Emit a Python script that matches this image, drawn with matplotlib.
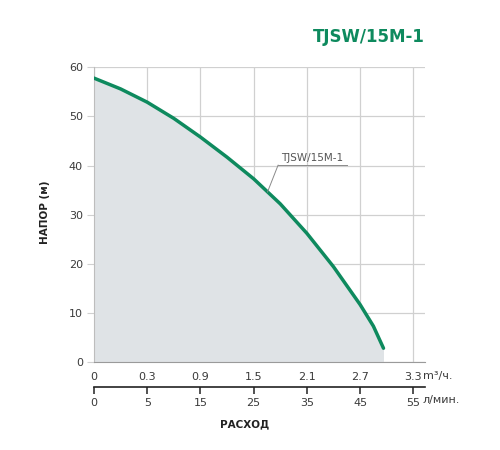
import matplotlib
matplotlib.use("Agg")
import matplotlib.pyplot as plt
import matplotlib.transforms as mtransforms

# Data (positions are equally spaced tick slots)
flow_m3h_labels = ["0", "0.3", "0.9", "1.5", "2.1", "2.7", "3.3"]
flow_lmin_labels = ["0", "5", "15", "25", "35", "45", "55"]
curve_pos = [0, 0.5, 1, 1.5, 2, 2.5, 3, 3.5, 4, 4.5, 5, 5.25, 5.44]
curve_head = [57.8, 55.6, 52.9, 49.6, 45.8, 41.7, 37.3, 32.2, 26.2, 19.4, 11.7, 7.3, 2.8]
head_ticks = [0, 10, 20, 30, 40, 50, 60]
title = "TJSW/15M-1"

GREEN = "#0e8a5e"
FILL = "#dfe3e6"
GRID = "#d0d0d0"
TXT = "#3a3a3a"

plt.rcParams['font.family'] = ['DejaVu Sans']

fig = plt.figure(figsize=(5, 4.5), dpi=100)
ax = fig.add_axes([0.188, 0.1956, 0.662, 0.6548])
ax.set_xlim(0, 6.22)
ax.set_ylim(0, 60)

ax.fill_between(curve_pos, curve_head, 0, color=FILL, lw=0, zorder=1)
ax.plot(curve_pos, curve_head, color=GREEN, lw=2.5, solid_capstyle='round',
        solid_joinstyle='round', zorder=3)

positions = list(range(len(flow_m3h_labels)))
ax.set_xticks(positions)
ax.set_xticklabels(flow_m3h_labels)
ax.set_yticks(head_ticks)
ax.grid(True, color=GRID, lw=0.9, zorder=0)
ax.set_axisbelow(True)
for s in ["top", "right"]:
    ax.spines[s].set_visible(False)
ax.spines["left"].set_color("#bdbdbd")
ax.spines["bottom"].set_color("#9a9a9a")
ax.tick_params(axis='x', length=0, pad=7, labelsize=8, labelcolor=TXT)
ax.tick_params(axis='y', length=5, color=GRID, pad=3, labelsize=8, labelcolor=TXT)

# secondary axis for l/min
sec = ax.secondary_xaxis(-0.085)
sec.set_xticks(positions)
sec.set_xticklabels(flow_lmin_labels)
sec.spines["bottom"].set_color("#222222")
sec.spines["bottom"].set_linewidth(1.2)
sec.tick_params(axis='x', direction='out', length=5, width=1.1, color="#222222",
                pad=3, labelsize=8, labelcolor=TXT)

trans = mtransforms.blended_transform_factory(ax.transData, ax.transAxes)
ax.text(6.18, -0.049, "m³/ч.", transform=trans, fontsize=8, color=TXT,
        ha='left', va='center')
ax.text(6.18, -0.13, "л/мин.", transform=trans, fontsize=8, color=TXT,
        ha='left', va='center')

fig.text(0.49, 0.058, "РАСХОД", fontsize=7.5, fontweight='bold', color="#222222",
         ha='center', va='center')
fig.text(0.09, 0.529, "НАПОР (м)", fontsize=7.5, fontweight='bold', color="#222222",
         ha='center', va='center', rotation=90)
fig.text(0.85, 0.918, title, fontsize=12, fontweight='bold', color=GREEN,
         ha='right', va='center')

# annotation with leader line
ax.annotate("", xy=(3.26, 34.6), xytext=(3.46, 40.1),
            arrowprops=dict(arrowstyle='-', color="#8a8a8a", lw=0.7,
                            shrinkA=0, shrinkB=0), zorder=4)
ax.plot([3.46, 4.75], [40.1, 40.1], color="#8a8a8a", lw=0.7, zorder=4)
ax.text(3.52, 40.6, title, fontsize=7.5, color="#555555", ha='left', va='bottom', zorder=4)

fig.savefig("out.png", dpi=100, facecolor="white")
